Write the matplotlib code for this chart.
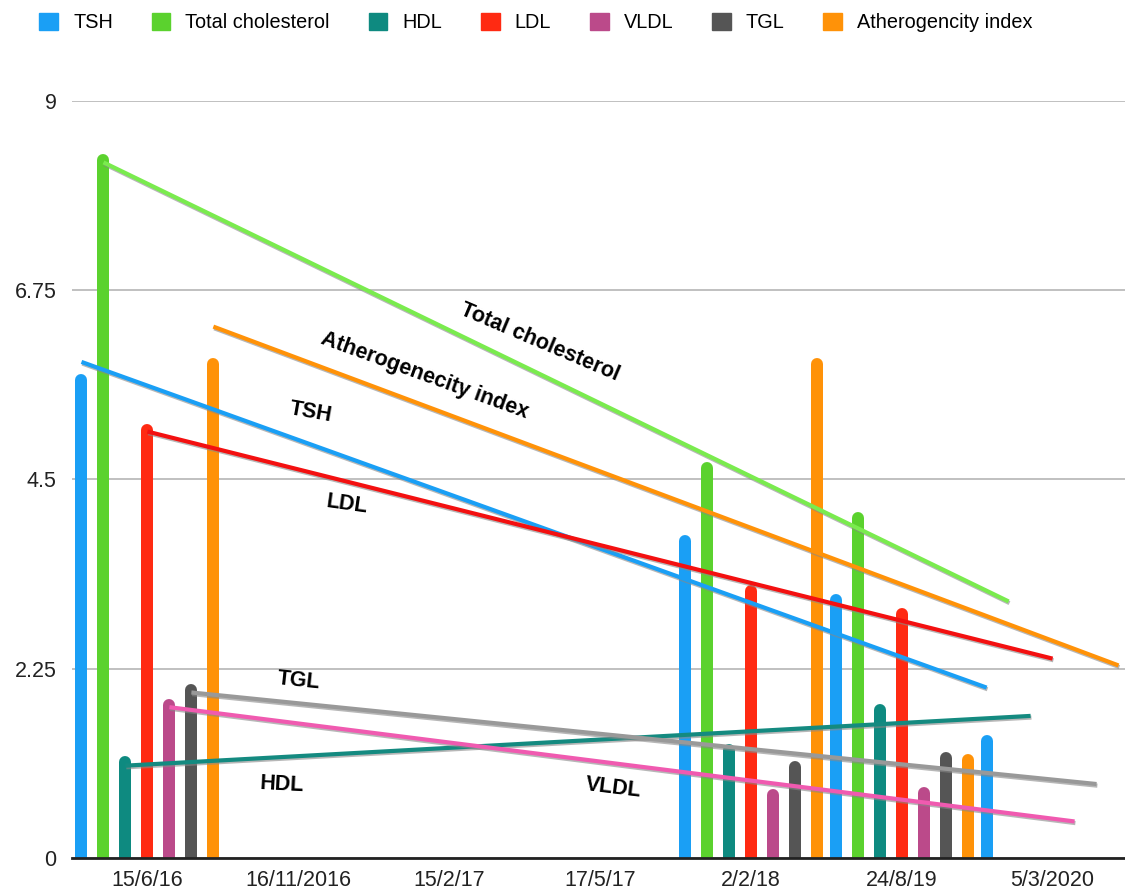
import matplotlib
matplotlib.use("Agg")
import matplotlib.pyplot as plt
import matplotlib.patheffects as pe
from matplotlib.patches import Patch
import numpy as np

plt.rcParams['font.family'] = ['Liberation Sans', 'DejaVu Sans']

categories = ["15/6/16", "16/11/2016", "15/2/17", "17/5/17", "2/2/18", "24/8/19", "5/3/2020"]
series = ["TSH", "Total cholesterol", "HDL", "LDL", "VLDL", "TGL", "Atherogencity index"]
# values per category index (None = no bar)
tsh  = [5.68, None, None, None, 3.77, 3.07, 1.39]
tc   = [8.30, None, None, None, 4.64, 4.04, None]
hdl  = [1.14, None, None, None, 1.28, 1.76, None]
ldl  = [5.09, None, None, None, 3.17, 2.90, None]
vldl = [1.82, None, None, None, 0.75, 0.77, None]
tgl  = [2.00, None, None, None, 1.08, 1.19, None]
ai   = [5.87, None, None, None, 5.87, 1.17, None]
data = [tsh, tc, hdl, ldl, vldl, tgl, ai]

bar_colors = ["#1A9FF5", "#5BD22E", "#0E8A80", "#FF2A12", "#BB4A8A", "#555555", "#FF9208"]
line_colors = ["#1A9FF5", "#7AEB4E", "#148A80", "#F31010", "#F05AB0", "#999999", "#FF9208"]
trend_labels = ["TSH", "Total cholesterol", "HDL", "LDL", "VLDL", "TGL", "Atherogenecity index"]
label_pos = [(1.08, 5.30, -10), (2.60, 6.13, -23), (0.89, 0.87, -3), (1.32, 4.20, -8),
             (3.09, 0.83, -7), (1.00, 2.11, -6), (1.84, 5.74, -20)]

fig = plt.figure(figsize=(11.25, 8.9), dpi=100)
ax = fig.add_axes([0.064, 0.036, 0.936, 0.8505])
ax.set_xlim(-0.5, 6.48)
ax.set_ylim(0, 9)

step = 22 / 151.0
bw_pts = 12 * 72 / 100.0
n = len(series)
for j, vals in enumerate(data):
    off = (j - (n - 1) / 2) * step
    xs = [i + off for i, v in enumerate(vals) if v is not None]
    ys = [v for v in vals if v is not None]
    ax.vlines(xs, 0, ys, colors=bar_colors[j], linewidth=bw_pts, capstyle='round', zorder=3)
    # linear trend over category index
    xi = np.array([i for i, v in enumerate(vals) if v is not None], dtype=float)
    k, b = np.polyfit(xi, np.array(ys), 1)
    x0, x1 = 0, len(categories) - 1
    ax.plot([x0 + off, x1 + off], [b + k * x0, b + k * x1], color=line_colors[j], lw=3,
            solid_capstyle='butt', zorder=4,
            path_effects=[pe.SimpleLineShadow(offset=(0.6, -1.2), shadow_color='#888888', alpha=0.6), pe.Normal()])
    lx, ly, rot = label_pos[j]
    ax.text(lx, ly, trend_labels[j], rotation=rot, fontsize=15.5, fontweight='bold',
            ha='center', va='center', zorder=5, rotation_mode='anchor')

ax.set_yticks([0, 2.25, 4.5, 6.75, 9])
ax.set_yticklabels(["0", "2.25", "4.5", "6.75", "9"])
ax.set_xticks(range(len(categories)))
ax.set_xticklabels(categories)
ax.tick_params(axis='both', length=0, labelsize=15.5, colors='#222222')
ax.tick_params(axis='x', pad=9)
ax.tick_params(axis='y', pad=11)
for s in ['top', 'right', 'left']:
    ax.spines[s].set_visible(False)
ax.spines['bottom'].set_color('#222222')
ax.spines['bottom'].set_linewidth(2)
ax.spines['bottom'].set_zorder(6)
ax.grid(axis='y', color='#b5b5b5', lw=1.2)
ax.set_axisbelow(True)

handles = [Patch(facecolor=c, edgecolor=c) for c in bar_colors]
fig.legend(handles, series, loc='upper left', bbox_to_anchor=(0.019, 1.006), ncol=7, frameon=False,
           fontsize=14.3, handlelength=0.95, handleheight=0.95, columnspacing=1.95, handletextpad=0.75)

fig.savefig("out.png", dpi=100)
